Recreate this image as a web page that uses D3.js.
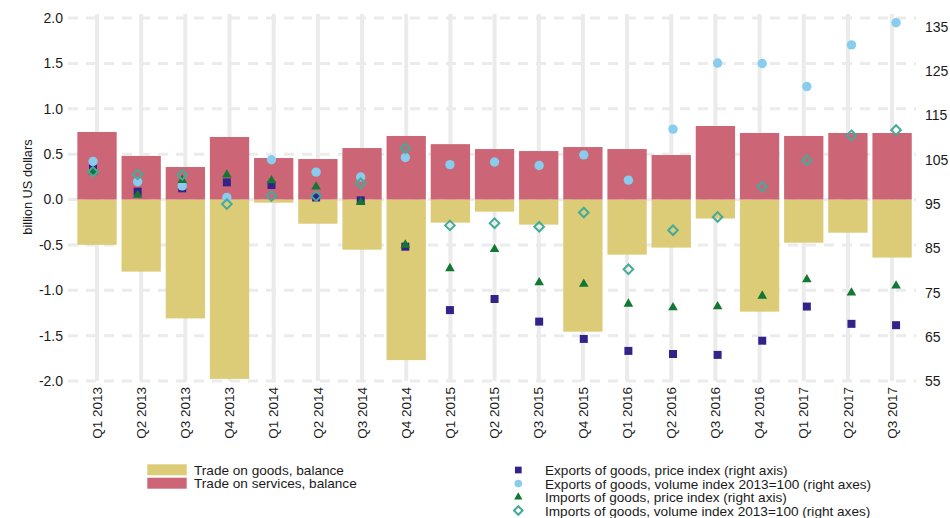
<!DOCTYPE html>
<html>
<head>
<meta charset="utf-8">
<script src="https://cdn.jsdelivr.net/npm/d3@7"></script>
<style>
  html, body { margin: 0; padding: 0; background: #ffffff; }
  svg { display: block; font-family: "Liberation Sans", Arial, Helvetica, sans-serif; }
</style>
</head>
<body>
<svg id="chart" width="950" height="518"></svg>
<script>
const categories = ["Q1 2013","Q2 2013","Q3 2013","Q4 2013","Q1 2014","Q2 2014","Q3 2014","Q4 2014",
  "Q1 2015","Q2 2015","Q3 2015","Q4 2015","Q1 2016","Q2 2016","Q3 2016","Q4 2016","Q1 2017","Q2 2017","Q3 2017"];
const goodsBalance = [-0.50,-0.795,-1.31,-1.977,-0.035,-0.267,-0.553,-1.77,-0.255,-0.134,-0.277,-1.457,-0.608,-0.53,-0.21,-1.236,-0.476,-0.366,-0.64];
const servicesBalance = [0.744,0.48,0.358,0.689,0.457,0.446,0.567,0.70,0.61,0.556,0.534,0.578,0.556,0.49,0.81,0.733,0.70,0.733,0.733];
const exportsPrice = [103.6,97.8,98.55,99.9,99.3,96.5,95.85,85.4,71.1,73.6,68.5,64.6,61.9,61.2,61.0,64.2,71.9,68.0,67.7];
const exportsVolume = [104.6,100.05,99.1,96.5,105.0,102.2,101.1,105.5,103.9,104.5,103.7,106.1,100.4,111.9,126.8,126.7,121.5,130.9,135.9];
const importsPrice = [102.3,97.05,100.4,101.6,100.3,98.9,95.4,85.8,80.5,84.8,77.3,77.0,72.5,71.7,71.9,74.3,78.0,75.0,76.6];
const importsVolume = [102.3,101.7,101.6,95.0,96.8,96.8,99.7,107.6,90.2,90.7,89.9,93.1,80.3,89.1,92.1,98.9,104.9,110.5,111.7];
const leftTicks = [2.0,1.5,1.0,0.5,0.0,-0.5,-1.0,-1.5,-2.0];
const leftTickLabels = ["2.0","1.5","1.0","0.5","0.0","-0.5","-1.0","-1.5","-2.0"];
const rightTicks = [135,125,115,105,95,85,75,65,55];
const barSeries = ["Trade on goods, balance","Trade on services, balance"];
const pointSeries = ["Exports of goods, price index (right axis)","Exports of goods, volume index 2013=100 (right axes)",
  "Imports of goods, price index (right axis)","Imports of goods, volume index 2013=100 (right axes)"];
const yAxisTitle = "billion US dollars";

const C = { goods:"#DDCC77", services:"#CC6677", sq:"#332288", circ:"#88CCEE", tri:"#117733", dia:"#44AA99", grid:"#ebebeb", text:"#1a1a1a" };

const svg = d3.select("#chart");
const x = d3.scaleBand().domain(categories).range([72.5, 916.6]).padding(0.11);
const xp = d3.scalePoint().domain(categories).range([72.5, 916.6]).padding(0.46);
const yL = d3.scaleLinear().domain([-2, 2]).range([381, 18]);
const yR = d3.scaleLinear().domain([55, 135]).range([381.5, 26.7]);
const cx = c => x(c) + x.bandwidth() / 2;

// vertical gridlines
svg.append("g").selectAll("line").data(categories).join("line")
  .attr("x1", d => cx(d)).attr("x2", d => cx(d)).attr("y1", 14).attr("y2", 381)
  .attr("stroke", C.grid).attr("stroke-width", 4);
// horizontal dashed gridlines
svg.append("g").selectAll("line").data(leftTicks).join("line")
  .attr("x1", 68).attr("x2", 916).attr("y1", d => yL(d)).attr("y2", d => yL(d))
  .attr("stroke", C.grid).attr("stroke-width", 3).attr("stroke-dasharray", "10,8");

// bars
svg.append("g").selectAll("rect").data(categories).join("rect")
  .attr("x", d => x(d)).attr("width", x.bandwidth())
  .attr("y", yL(0)).attr("height", (d, i) => yL(goodsBalance[i]) - yL(0))
  .attr("fill", C.goods);
svg.append("g").selectAll("rect").data(categories).join("rect")
  .attr("x", d => x(d)).attr("width", x.bandwidth())
  .attr("y", (d, i) => yL(servicesBalance[i])).attr("height", (d, i) => yL(0) - yL(servicesBalance[i]))
  .attr("fill", C.services);

// point markers
const diamondPath = r => `M0,${-r}L${r},0L0,${r}L${-r},0Z`;
svg.append("g").selectAll("path").data(categories).join("path")
  .attr("transform", (d, i) => `translate(${xp(d)},${yR(exportsPrice[i])})`)
  .attr("d", d3.symbol(d3.symbolSquare, 64)()).attr("fill", C.sq);
svg.append("g").selectAll("circle").data(categories).join("circle")
  .attr("cx", d => xp(d)).attr("cy", (d, i) => yR(exportsVolume[i])).attr("r", 4.7).attr("fill", C.circ);
svg.append("g").selectAll("path").data(categories).join("path")
  .attr("transform", (d, i) => `translate(${xp(d)},${yR(importsPrice[i])})`)
  .attr("d", d3.symbol(d3.symbolTriangle, 40)()).attr("fill", C.tri);
svg.append("g").selectAll("path").data(categories).join("path")
  .attr("transform", (d, i) => `translate(${xp(d)},${yR(importsVolume[i])})`)
  .attr("d", diamondPath(4.8)).attr("fill", "none").attr("stroke", C.dia).attr("stroke-width", 2);

// left axis labels
svg.append("g").selectAll("text").data(leftTicks).join("text")
  .attr("x", 63).attr("y", d => yL(d)).attr("dy", "0.35em").attr("text-anchor", "end")
  .attr("font-size", 14).attr("fill", C.text).text((d, i) => leftTickLabels[i]);
// right axis labels
svg.append("g").selectAll("text").data(rightTicks).join("text")
  .attr("x", 925).attr("y", d => yR(d)).attr("dy", "0.35em").attr("text-anchor", "start")
  .attr("font-size", 14).attr("fill", C.text).text(d => d);
// x labels
svg.append("g").selectAll("text").data(categories).join("text")
  .attr("transform", d => `translate(${cx(d)},387) rotate(-90)`).attr("dy", "0.35em")
  .attr("text-anchor", "end").attr("font-size", 13.5).attr("fill", C.text).text(d => d);
// y title
svg.append("text").attr("transform", "translate(32,187) rotate(-90)").attr("text-anchor", "middle")
  .attr("font-size", 12.8).attr("fill", C.text).text(yAxisTitle);

// legend left
const lg = svg.append("g");
[C.goods, C.services].forEach((col, i) => {
  lg.append("rect").attr("x", 147.3).attr("y", 464.3 + i * 13.4).attr("width", 39.4).attr("height", 11).attr("fill", col);
  lg.append("text").attr("x", 194).attr("y", 475 + i * 13.4).attr("font-size", 13.6).attr("fill", C.text).text(barSeries[i]);
});
// legend right
const rg = svg.append("g");
pointSeries.forEach((s, i) => {
  const yy = 470 + i * 13.5;
  if (i === 0) rg.append("path").attr("transform", `translate(518.3,${yy})`).attr("d", d3.symbol(d3.symbolSquare, 45)()).attr("fill", C.sq);
  if (i === 1) rg.append("circle").attr("cx", 518.3).attr("cy", yy).attr("r", 3.8).attr("fill", C.circ);
  if (i === 2) rg.append("path").attr("transform", `translate(518.3,${yy})`).attr("d", d3.symbol(d3.symbolTriangle, 30)()).attr("fill", C.tri);
  if (i === 3) rg.append("path").attr("transform", `translate(518.3,${yy})`).attr("d", diamondPath(4.3)).attr("fill", "none").attr("stroke", C.dia).attr("stroke-width", 2);
  rg.append("text").attr("x", 545).attr("y", 475 + i * 13.5).attr("font-size", 13.6).attr("fill", C.text).text(s);
});
</script>
</body>
</html>
